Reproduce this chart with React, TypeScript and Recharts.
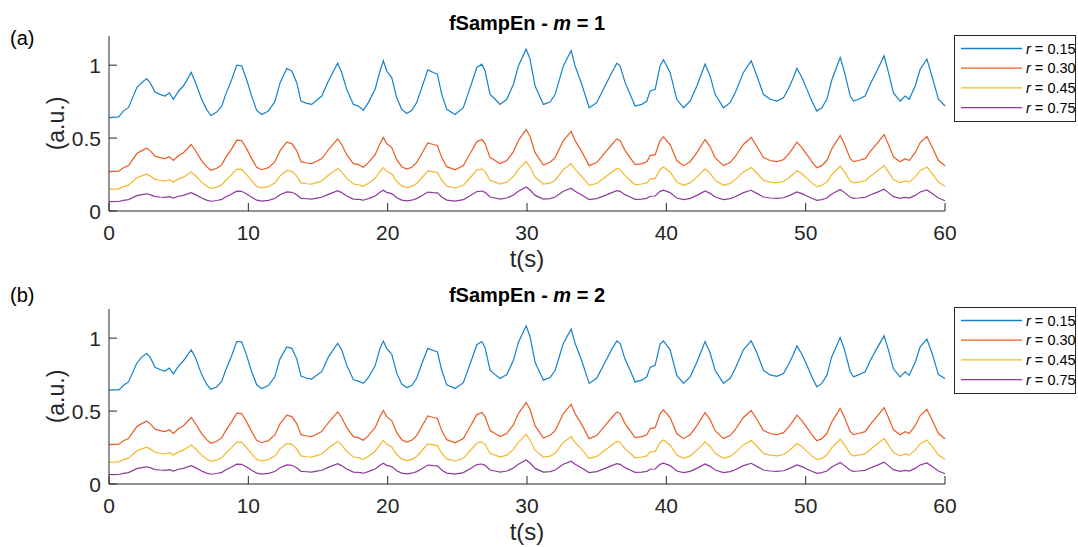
import React from 'react';
import { LineChart, Line, XAxis, YAxis } from 'recharts';

// time samples (s)
const T = [
  0, 0.7, 1.03, 1.4, 2.0, 2.35, 2.7, 2.95, 3.3, 3.66,
  4.02, 4.33, 4.62, 5.0, 5.34, 5.9, 6.17, 6.65, 7.0, 7.32,
  7.73, 8.1, 8.33, 8.8, 9.17, 9.52, 9.88, 10.24, 10.6, 10.96,
  11.44, 11.9, 12.28, 12.76, 13.12, 13.47, 13.78, 14.19, 14.55, 14.9,
  15.27, 15.74, 16.41, 16.7, 17.06, 17.54, 17.9, 18.26, 18.61, 19.1,
  19.45, 19.69, 19.93, 20.29, 20.65, 21.01, 21.37, 21.73, 22.08, 22.45,
  22.88, 23.28, 23.57, 23.88, 24.24, 24.84, 25.43, 25.92, 26.4, 26.76,
  26.99, 27.35, 27.71, 28.07, 28.55, 29.03, 29.38, 29.94, 30.22, 30.58,
  31.18, 31.66, 32.02, 32.61, 33.17, 33.45, 33.93, 34.46, 35.0, 35.6,
  36.09, 36.45, 36.68, 37.04, 37.4, 37.76, 38.24, 38.6, 38.84, 39.2,
  39.55, 39.79, 40.27, 40.75, 41.23, 41.71, 42.19, 42.78, 43.14, 43.5,
  44.1, 44.58, 44.94, 45.53, 46.09, 46.5, 46.97, 47.45, 47.93, 48.41,
  48.77, 49.05, 49.37, 49.73, 50.09, 50.44, 50.8, 51.16, 51.52, 51.88,
  52.48, 52.79, 53.2, 53.44, 53.79, 54.27, 54.63, 55.11, 55.63, 55.94,
  56.3, 56.78, 57.14, 57.43, 57.86, 58.22, 58.7, 59.06, 59.53, 60,
];

// m = 1
const M1_R15 = [
  0.64, 0.645, 0.685, 0.71, 0.846, 0.88, 0.908, 0.88, 0.816, 0.8,
  0.788, 0.81, 0.766, 0.823, 0.857, 0.95, 0.89, 0.766, 0.697, 0.655,
  0.678, 0.72, 0.788, 0.9, 1.0, 0.995, 0.9, 0.788, 0.69, 0.662,
  0.685, 0.75, 0.88, 0.977, 0.96, 0.88, 0.754, 0.738, 0.731, 0.759,
  0.788, 0.89, 1.014, 0.95, 0.834, 0.731, 0.72, 0.69, 0.743, 0.834,
  0.96, 1.03, 0.96, 0.915, 0.777, 0.697, 0.669, 0.69, 0.743, 0.846,
  0.968, 0.95, 0.938, 0.8, 0.697, 0.662, 0.708, 0.846, 0.984, 1.007,
  0.96, 0.8, 0.766, 0.731, 0.766, 0.869, 0.995, 1.11, 1.041, 0.857,
  0.731, 0.747, 0.8, 0.995, 1.1, 0.995, 0.869, 0.708, 0.743, 0.857,
  0.95, 1.014, 0.995, 0.88, 0.8, 0.72, 0.731, 0.754, 0.823, 0.834,
  0.995, 1.037, 0.95, 0.766, 0.708, 0.754, 0.857, 1.007, 0.926, 0.8,
  0.708, 0.743, 0.81, 0.95, 1.03, 0.926, 0.8, 0.766, 0.754, 0.777,
  0.84, 0.9, 0.977, 0.915, 0.834, 0.754, 0.685, 0.708, 0.766, 0.9,
  1.053, 0.95, 0.788, 0.754, 0.766, 0.788, 0.869, 0.96, 1.064, 0.95,
  0.81, 0.754, 0.788, 0.766, 0.857, 0.972, 1.041, 0.926, 0.766, 0.72,
];
const M1_R30 = [
  0.27, 0.273, 0.297, 0.312, 0.394, 0.414, 0.431, 0.414, 0.376, 0.366,
  0.359, 0.372, 0.346, 0.38, 0.4, 0.456, 0.42, 0.346, 0.304, 0.279,
  0.293, 0.318, 0.359, 0.426, 0.486, 0.483, 0.426, 0.359, 0.3, 0.283,
  0.297, 0.336, 0.414, 0.472, 0.462, 0.414, 0.338, 0.329, 0.325, 0.341,
  0.359, 0.42, 0.494, 0.456, 0.386, 0.325, 0.318, 0.3, 0.332, 0.386,
  0.462, 0.504, 0.462, 0.435, 0.352, 0.304, 0.287, 0.3, 0.332, 0.394,
  0.467, 0.456, 0.449, 0.366, 0.304, 0.283, 0.311, 0.394, 0.476, 0.49,
  0.462, 0.366, 0.346, 0.325, 0.346, 0.407, 0.483, 0.56, 0.511, 0.4,
  0.315, 0.334, 0.366, 0.483, 0.546, 0.483, 0.407, 0.311, 0.332, 0.4,
  0.456, 0.494, 0.483, 0.414, 0.366, 0.318, 0.325, 0.338, 0.38, 0.386,
  0.483, 0.508, 0.456, 0.346, 0.311, 0.338, 0.4, 0.49, 0.442, 0.366,
  0.311, 0.332, 0.372, 0.456, 0.504, 0.442, 0.366, 0.346, 0.338, 0.352,
  0.39, 0.426, 0.472, 0.435, 0.386, 0.338, 0.297, 0.311, 0.346, 0.426,
  0.518, 0.456, 0.359, 0.338, 0.346, 0.359, 0.407, 0.462, 0.524, 0.456,
  0.372, 0.338, 0.359, 0.346, 0.4, 0.469, 0.511, 0.442, 0.346, 0.31,
];
const M1_R45 = [
  0.15, 0.152, 0.167, 0.177, 0.228, 0.241, 0.252, 0.241, 0.217, 0.211,
  0.206, 0.215, 0.198, 0.22, 0.232, 0.268, 0.245, 0.198, 0.172, 0.156,
  0.164, 0.18, 0.206, 0.249, 0.287, 0.285, 0.249, 0.206, 0.169, 0.158,
  0.167, 0.192, 0.241, 0.278, 0.272, 0.241, 0.193, 0.187, 0.185, 0.195,
  0.206, 0.245, 0.292, 0.268, 0.224, 0.185, 0.18, 0.169, 0.189, 0.224,
  0.272, 0.298, 0.272, 0.255, 0.202, 0.172, 0.161, 0.169, 0.189, 0.228,
  0.275, 0.268, 0.263, 0.211, 0.172, 0.158, 0.176, 0.228, 0.281, 0.289,
  0.272, 0.211, 0.198, 0.185, 0.198, 0.237, 0.285, 0.34, 0.302, 0.232,
  0.185, 0.191, 0.211, 0.285, 0.325, 0.285, 0.237, 0.176, 0.189, 0.232,
  0.268, 0.292, 0.285, 0.241, 0.211, 0.18, 0.185, 0.193, 0.22, 0.224,
  0.285, 0.301, 0.268, 0.198, 0.176, 0.193, 0.232, 0.289, 0.259, 0.211,
  0.176, 0.189, 0.215, 0.268, 0.298, 0.259, 0.211, 0.198, 0.193, 0.202,
  0.226, 0.249, 0.278, 0.255, 0.224, 0.193, 0.167, 0.176, 0.198, 0.249,
  0.307, 0.268, 0.206, 0.193, 0.198, 0.206, 0.237, 0.272, 0.311, 0.268,
  0.215, 0.193, 0.206, 0.198, 0.232, 0.276, 0.302, 0.259, 0.198, 0.17,
];
const M1_R75 = [
  0.064, 0.065, 0.073, 0.078, 0.105, 0.112, 0.118, 0.112, 0.099, 0.096,
  0.094, 0.098, 0.089, 0.101, 0.107, 0.126, 0.114, 0.089, 0.075, 0.067,
  0.072, 0.08, 0.094, 0.116, 0.136, 0.135, 0.116, 0.094, 0.074, 0.068,
  0.073, 0.086, 0.112, 0.131, 0.128, 0.112, 0.087, 0.084, 0.082, 0.088,
  0.094, 0.114, 0.139, 0.126, 0.103, 0.082, 0.08, 0.074, 0.085, 0.103,
  0.128, 0.142, 0.128, 0.119, 0.091, 0.075, 0.07, 0.074, 0.085, 0.105,
  0.13, 0.126, 0.124, 0.096, 0.075, 0.068, 0.078, 0.105, 0.133, 0.137,
  0.128, 0.096, 0.089, 0.082, 0.089, 0.11, 0.135, 0.165, 0.144, 0.107,
  0.082, 0.085, 0.096, 0.135, 0.156, 0.135, 0.11, 0.078, 0.085, 0.107,
  0.126, 0.139, 0.135, 0.112, 0.096, 0.08, 0.082, 0.087, 0.101, 0.103,
  0.135, 0.143, 0.126, 0.089, 0.078, 0.087, 0.107, 0.137, 0.121, 0.096,
  0.078, 0.085, 0.098, 0.126, 0.142, 0.121, 0.096, 0.089, 0.087, 0.091,
  0.104, 0.116, 0.131, 0.119, 0.103, 0.087, 0.073, 0.078, 0.089, 0.116,
  0.147, 0.126, 0.094, 0.087, 0.089, 0.094, 0.11, 0.128, 0.149, 0.126,
  0.098, 0.087, 0.094, 0.089, 0.107, 0.13, 0.144, 0.121, 0.089, 0.07,
];

// m = 2 (r = 0.30 / 0.45 / 0.75 read as the same as m = 1)
const M2_R15 = [
  0.645, 0.645, 0.675, 0.7, 0.83, 0.87, 0.894, 0.87, 0.8, 0.785,
  0.775, 0.795, 0.755, 0.81, 0.845, 0.92, 0.875, 0.75, 0.685, 0.65,
  0.665, 0.705, 0.77, 0.88, 0.977, 0.975, 0.88, 0.77, 0.68, 0.655,
  0.675, 0.735, 0.86, 0.94, 0.93, 0.86, 0.74, 0.725, 0.72, 0.745,
  0.77, 0.87, 0.965, 0.92, 0.815, 0.715, 0.705, 0.69, 0.73, 0.81,
  0.93, 0.98, 0.93, 0.89, 0.76, 0.685, 0.662, 0.675, 0.725, 0.825,
  0.93, 0.915, 0.905, 0.78, 0.68, 0.655, 0.695, 0.825, 0.955, 0.977,
  0.935, 0.78, 0.75, 0.724, 0.75, 0.85, 0.97, 1.085, 1.01, 0.835,
  0.712, 0.73, 0.78, 0.965, 1.062, 0.965, 0.845, 0.69, 0.725, 0.835,
  0.925, 0.981, 0.965, 0.855, 0.78, 0.7, 0.712, 0.735, 0.8, 0.815,
  0.96, 0.981, 0.92, 0.745, 0.69, 0.735, 0.835, 0.977, 0.9, 0.78,
  0.69, 0.725, 0.79, 0.92, 0.981, 0.9, 0.78, 0.748, 0.738, 0.758,
  0.82, 0.875, 0.947, 0.89, 0.815, 0.735, 0.666, 0.69, 0.745, 0.875,
  1.004, 0.92, 0.77, 0.735, 0.748, 0.77, 0.845, 0.93, 1.016, 0.92,
  0.79, 0.735, 0.77, 0.745, 0.835, 0.94, 0.993, 0.9, 0.75, 0.724,
];
const M2_R30 = M1_R30;
const M2_R45 = M1_R45;
const M2_R75 = M1_R75;

const X_TICKS = [0, 10, 20, 30, 40, 50, 60];
const Y_TICKS = [0, 0.5, 1];
const SERIES_KEYS = ['r15', 'r30', 'r45', 'r75'];
const SERIES_NAMES = ['0.15', '0.30', '0.45', '0.75'];
const COLORS = ['#1482CB', '#EC5A24', '#F4B72C', '#8E3A9C'];

const FONT = '"Liberation Sans", Arial, Helvetica, sans-serif';
const AX = '#262626';

const build = (a: number[], b: number[], c: number[], d: number[]) =>
  T.map((t, i) => ({ t, r15: a[i], r30: b[i], r45: c[i], r75: d[i] }));

const data1 = build(M1_R15, M1_R30, M1_R45, M1_R75);
const data2 = build(M2_R15, M2_R30, M2_R45, M2_R75);

const XTick = (p: any) => {
  const { x, y, payload } = p;
  return (
    <g>
      <line x1={x} x2={x} y1={y} y2={y - 8} stroke={AX} strokeWidth={1} />
      <text x={x} y={y + 29} textAnchor="middle" fontSize={21} fill={AX} fontFamily={FONT}>
        {payload.value}
      </text>
    </g>
  );
};

const YTick = (p: any) => {
  const { x, y, payload } = p;
  return (
    <g>
      <line x1={x} x2={x + 8} y1={y} y2={y} stroke={AX} strokeWidth={1} />
      <text x={x - 8} y={y + 7.5} textAnchor="end" fontSize={21} fill={AX} fontFamily={FONT}>
        {payload.value}
      </text>
    </g>
  );
};

const Panel = ({ data }: { data: any[] }) => (
  <LineChart
    width={1078}
    height={261}
    data={data}
    margin={{ top: 36, right: 133, bottom: 0, left: 0 }}
  >
    <XAxis
      dataKey="t"
      type="number"
      domain={[0, 60]}
      ticks={X_TICKS}
      interval={0}
      height={50}
      tickSize={0}
      tickMargin={0}
      tickLine={false}
      axisLine={{ stroke: AX, strokeWidth: 1 }}
      tick={(p: any) => <XTick {...p} />}
    />
    <YAxis
      type="number"
      domain={[0, 1.2]}
      ticks={Y_TICKS}
      interval={0}
      width={109}
      tickSize={0}
      tickMargin={0}
      tickLine={false}
      allowDataOverflow
      axisLine={{ stroke: AX, strokeWidth: 1 }}
      tick={(p: any) => <YTick {...p} />}
    />
    {SERIES_KEYS.map((k, i) => (
      <Line
        key={k}
        type="linear"
        dataKey={k}
        stroke={COLORS[i]}
        strokeWidth={1.2}
        dot={false}
        activeDot={false}
        isAnimationActive={false}
      />
    ))}
  </LineChart>
);

const LegendBox = ({ left, top }: { left: number; top: number }) => (
  <svg
    width={123}
    height={88}
    style={{ position: 'absolute', left, top }}
  >
    <rect x={0.5} y={0.5} width={121} height={86} fill="#fff" stroke={AX} strokeWidth={1} />
    {SERIES_NAMES.map((n, i) => {
      const cy = 13.5 + i * 19.7;
      return (
        <g key={n}>
          <line x1={7} x2={68} y1={cy} y2={cy} stroke={COLORS[i]} strokeWidth={1.3} />
          <text x={72} y={cy + 5} fontSize={14.5} fill="#000" fontFamily={FONT}>
            <tspan fontStyle="italic">r</tspan> = {n}
          </text>
        </g>
      );
    })}
  </svg>
);

export default function App() {
  return (
    <div style={{ position: 'absolute', left: 0, top: 0, width: 1078, height: 547, background: '#fff', overflow: 'hidden' }}>
      <div style={{ position: 'absolute', left: 0, top: 0 }}>
        <Panel data={data1} />
      </div>
      <div style={{ position: 'absolute', left: 0, top: 273 }}>
        <Panel data={data2} />
      </div>
      <svg width={1078} height={547} style={{ position: 'absolute', left: 0, top: 0, pointerEvents: 'none' }}>
        <text x={10} y={45} fontSize={20} fill="#000" fontFamily={FONT}>(a)</text>
        <text x={10} y={302} fontSize={20} fill="#000" fontFamily={FONT}>(b)</text>
        <text x={527} y={30} textAnchor="middle" fontSize={20} fontWeight="bold" fill="#000" fontFamily={FONT}>
          fSampEn - <tspan fontStyle="italic">m</tspan> = 1
        </text>
        <text x={527} y={302} textAnchor="middle" fontSize={20} fontWeight="bold" fill="#000" fontFamily={FONT}>
          fSampEn - <tspan fontStyle="italic">m</tspan> = 2
        </text>
        <text x={527} y={267} textAnchor="middle" fontSize={24} fill={AX} fontFamily={FONT}>t(s)</text>
        <text x={527} y={540} textAnchor="middle" fontSize={24} fill={AX} fontFamily={FONT}>t(s)</text>
        <text x={56} y={123.5} transform="rotate(-90 56 123.5)" textAnchor="middle" dominantBaseline="central" fontSize={23} fill={AX} fontFamily={FONT}>(a.u.)</text>
        <text x={56} y={396.5} transform="rotate(-90 56 396.5)" textAnchor="middle" dominantBaseline="central" fontSize={23} fill={AX} fontFamily={FONT}>(a.u.)</text>
      </svg>
      <LegendBox left={954} top={35} />
      <LegendBox left={954} top={307} />
    </div>
  );
}
